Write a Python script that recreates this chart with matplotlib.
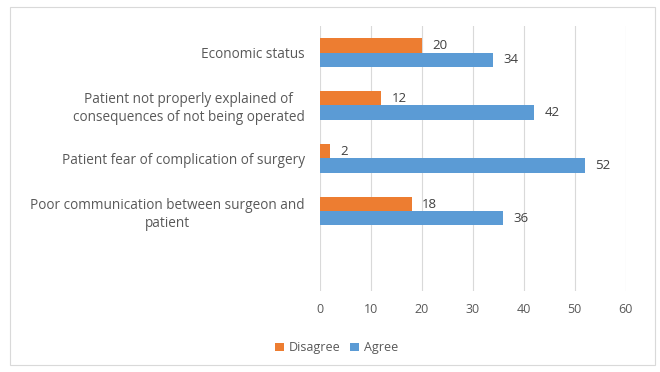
import numpy as np
import matplotlib.pyplot as plt
from matplotlib.patches import Rectangle

categories = ['Economic status',
              'Patient not properly explained of\nconsequences of not being operated',
              'Patient fear of complication of surgery',
              'Poor communication between surgeon and\npatient']
disagree = [20, 12, 2, 18]
agree = [34, 42, 52, 36]

orange = '#ED7D31'
blue = '#5B9BD5'
txt = '#595959'

plt.rcParams['font.family'] = ['Open Sans', 'DejaVu Sans']

fig = plt.figure(figsize=(6.6, 3.72), dpi=100)
ax = fig.add_axes([0.485, 0.218, 0.463, 0.712])

y = np.arange(len(categories))
h = 0.265
b1 = ax.barh(y - h / 2, disagree, height=h, color=orange, label='Disagree')
b2 = ax.barh(y + h / 2, agree, height=h, color=blue, label='Agree')

for bars, vals in ((b1, disagree), (b2, agree)):
    for bar, v in zip(bars, vals):
        ax.text(bar.get_width() + 2.0, bar.get_y() + bar.get_height() / 2, str(v),
                va='center', ha='left', fontsize=9.5, color='#404040')

ax.set_xlim(0, 60)
ax.set_xticks(range(0, 61, 10))
ax.set_ylim(4.5, -0.5)
ax.set_yticks(y)
ax.set_yticklabels(categories, fontsize=9.8, color=txt, ha='right',
                   multialignment='center', linespacing=1.25)
ax.tick_params(axis='y', length=0, pad=11)
ax.tick_params(axis='x', length=0, labelsize=9, labelcolor=txt, pad=9)
ax.grid(axis='x', color='#d9d9d9', linewidth=0.8)
ax.set_axisbelow(True)
for s in ax.spines.values():
    s.set_visible(False)

ax.legend(loc='center', bbox_to_anchor=(0.51, 0.065), bbox_transform=fig.transFigure,
          ncol=2, frameon=False, fontsize=9, handlelength=0.7, handleheight=0.7,
          columnspacing=0.8, handletextpad=0.4, labelcolor=txt)

fig.patches.append(Rectangle((0.015, 0.02), 0.978, 0.962, transform=fig.transFigure,
                             fill=False, edgecolor='#d9d9d9', linewidth=0.8))

fig.savefig('out.png', dpi=100)
